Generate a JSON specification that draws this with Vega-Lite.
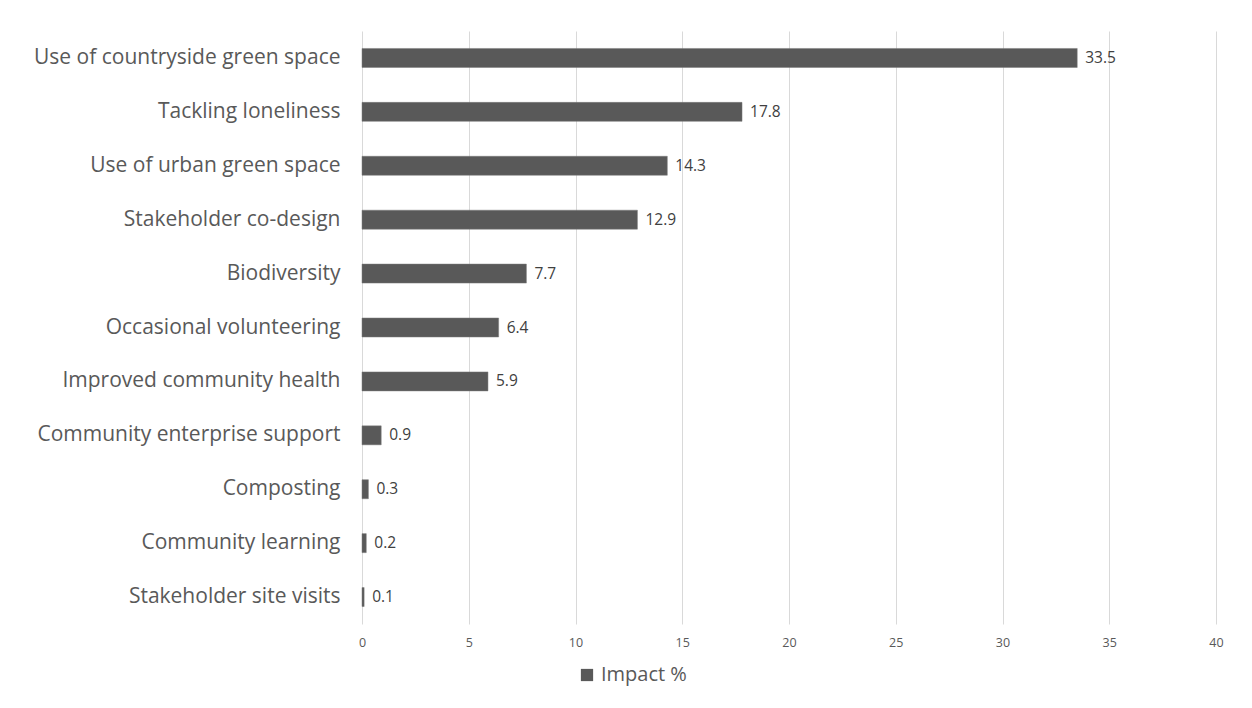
{
  "$schema": "https://vega.github.io/schema/vega-lite/v6.json",
  "autosize": {"type": "none"},
  "padding": {"left": 362, "top": 31, "right": 36, "bottom": 84},
  "width": 854,
  "height": 593,
  "background": "white",
  "config": {
    "font": "Open Sans",
    "view": {"stroke": null}
  },
  "data": {
    "values": [
      {"category": "Use of countryside green space", "impact": 33.5},
      {"category": "Tackling loneliness", "impact": 17.8},
      {"category": "Use of urban green space", "impact": 14.3},
      {"category": "Stakeholder co-design", "impact": 12.9},
      {"category": "Biodiversity", "impact": 7.7},
      {"category": "Occasional volunteering", "impact": 6.4},
      {"category": "Improved community health", "impact": 5.9},
      {"category": "Community enterprise support", "impact": 0.9},
      {"category": "Composting", "impact": 0.3},
      {"category": "Community learning", "impact": 0.2},
      {"category": "Stakeholder site visits", "impact": 0.1}
    ]
  },
  "encoding": {
    "y": {
      "field": "category",
      "type": "nominal",
      "sort": null,
      "title": null,
      "axis": {
        "domain": false,
        "ticks": false,
        "labelFontSize": 21,
        "labelColor": "#595959",
        "labelPadding": 22,
        "labelLimit": 400
      }
    },
    "x": {
      "field": "impact",
      "type": "quantitative",
      "title": null,
      "scale": {"domain": [0, 40], "nice": false},
      "axis": {
        "values": [0, 5, 10, 15, 20, 25, 30, 35, 40],
        "domain": false,
        "ticks": false,
        "grid": true,
        "gridColor": "#d9d9d9",
        "gridWidth": 1,
        "labelFontSize": 12.5,
        "labelColor": "#595959",
        "labelPadding": 12,
        "labelFlush": false
      }
    }
  },
  "layer": [
    {
      "mark": {"type": "bar", "size": 19, "stroke": "#7a7a7a", "strokeWidth": 0.5},
      "encoding": {
        "color": {
          "datum": "Impact %",
          "type": "nominal",
          "scale": {"range": ["#595959"]},
          "legend": {
            "title": null,
            "orient": "none",
            "legendX": 215,
            "legendY": 634,
            "symbolType": "square",
            "symbolSize": 150,
            "symbolStrokeWidth": 0,
            "labelFontSize": 20,
            "labelColor": "#595959",
            "labelOffset": 4
          }
        }
      }
    },
    {
      "mark": {"type": "text", "align": "left", "dx": 8, "fontSize": 15.5, "color": "#404040"},
      "encoding": {
        "text": {"field": "impact", "type": "quantitative", "format": ".1f"}
      }
    }
  ]
}
